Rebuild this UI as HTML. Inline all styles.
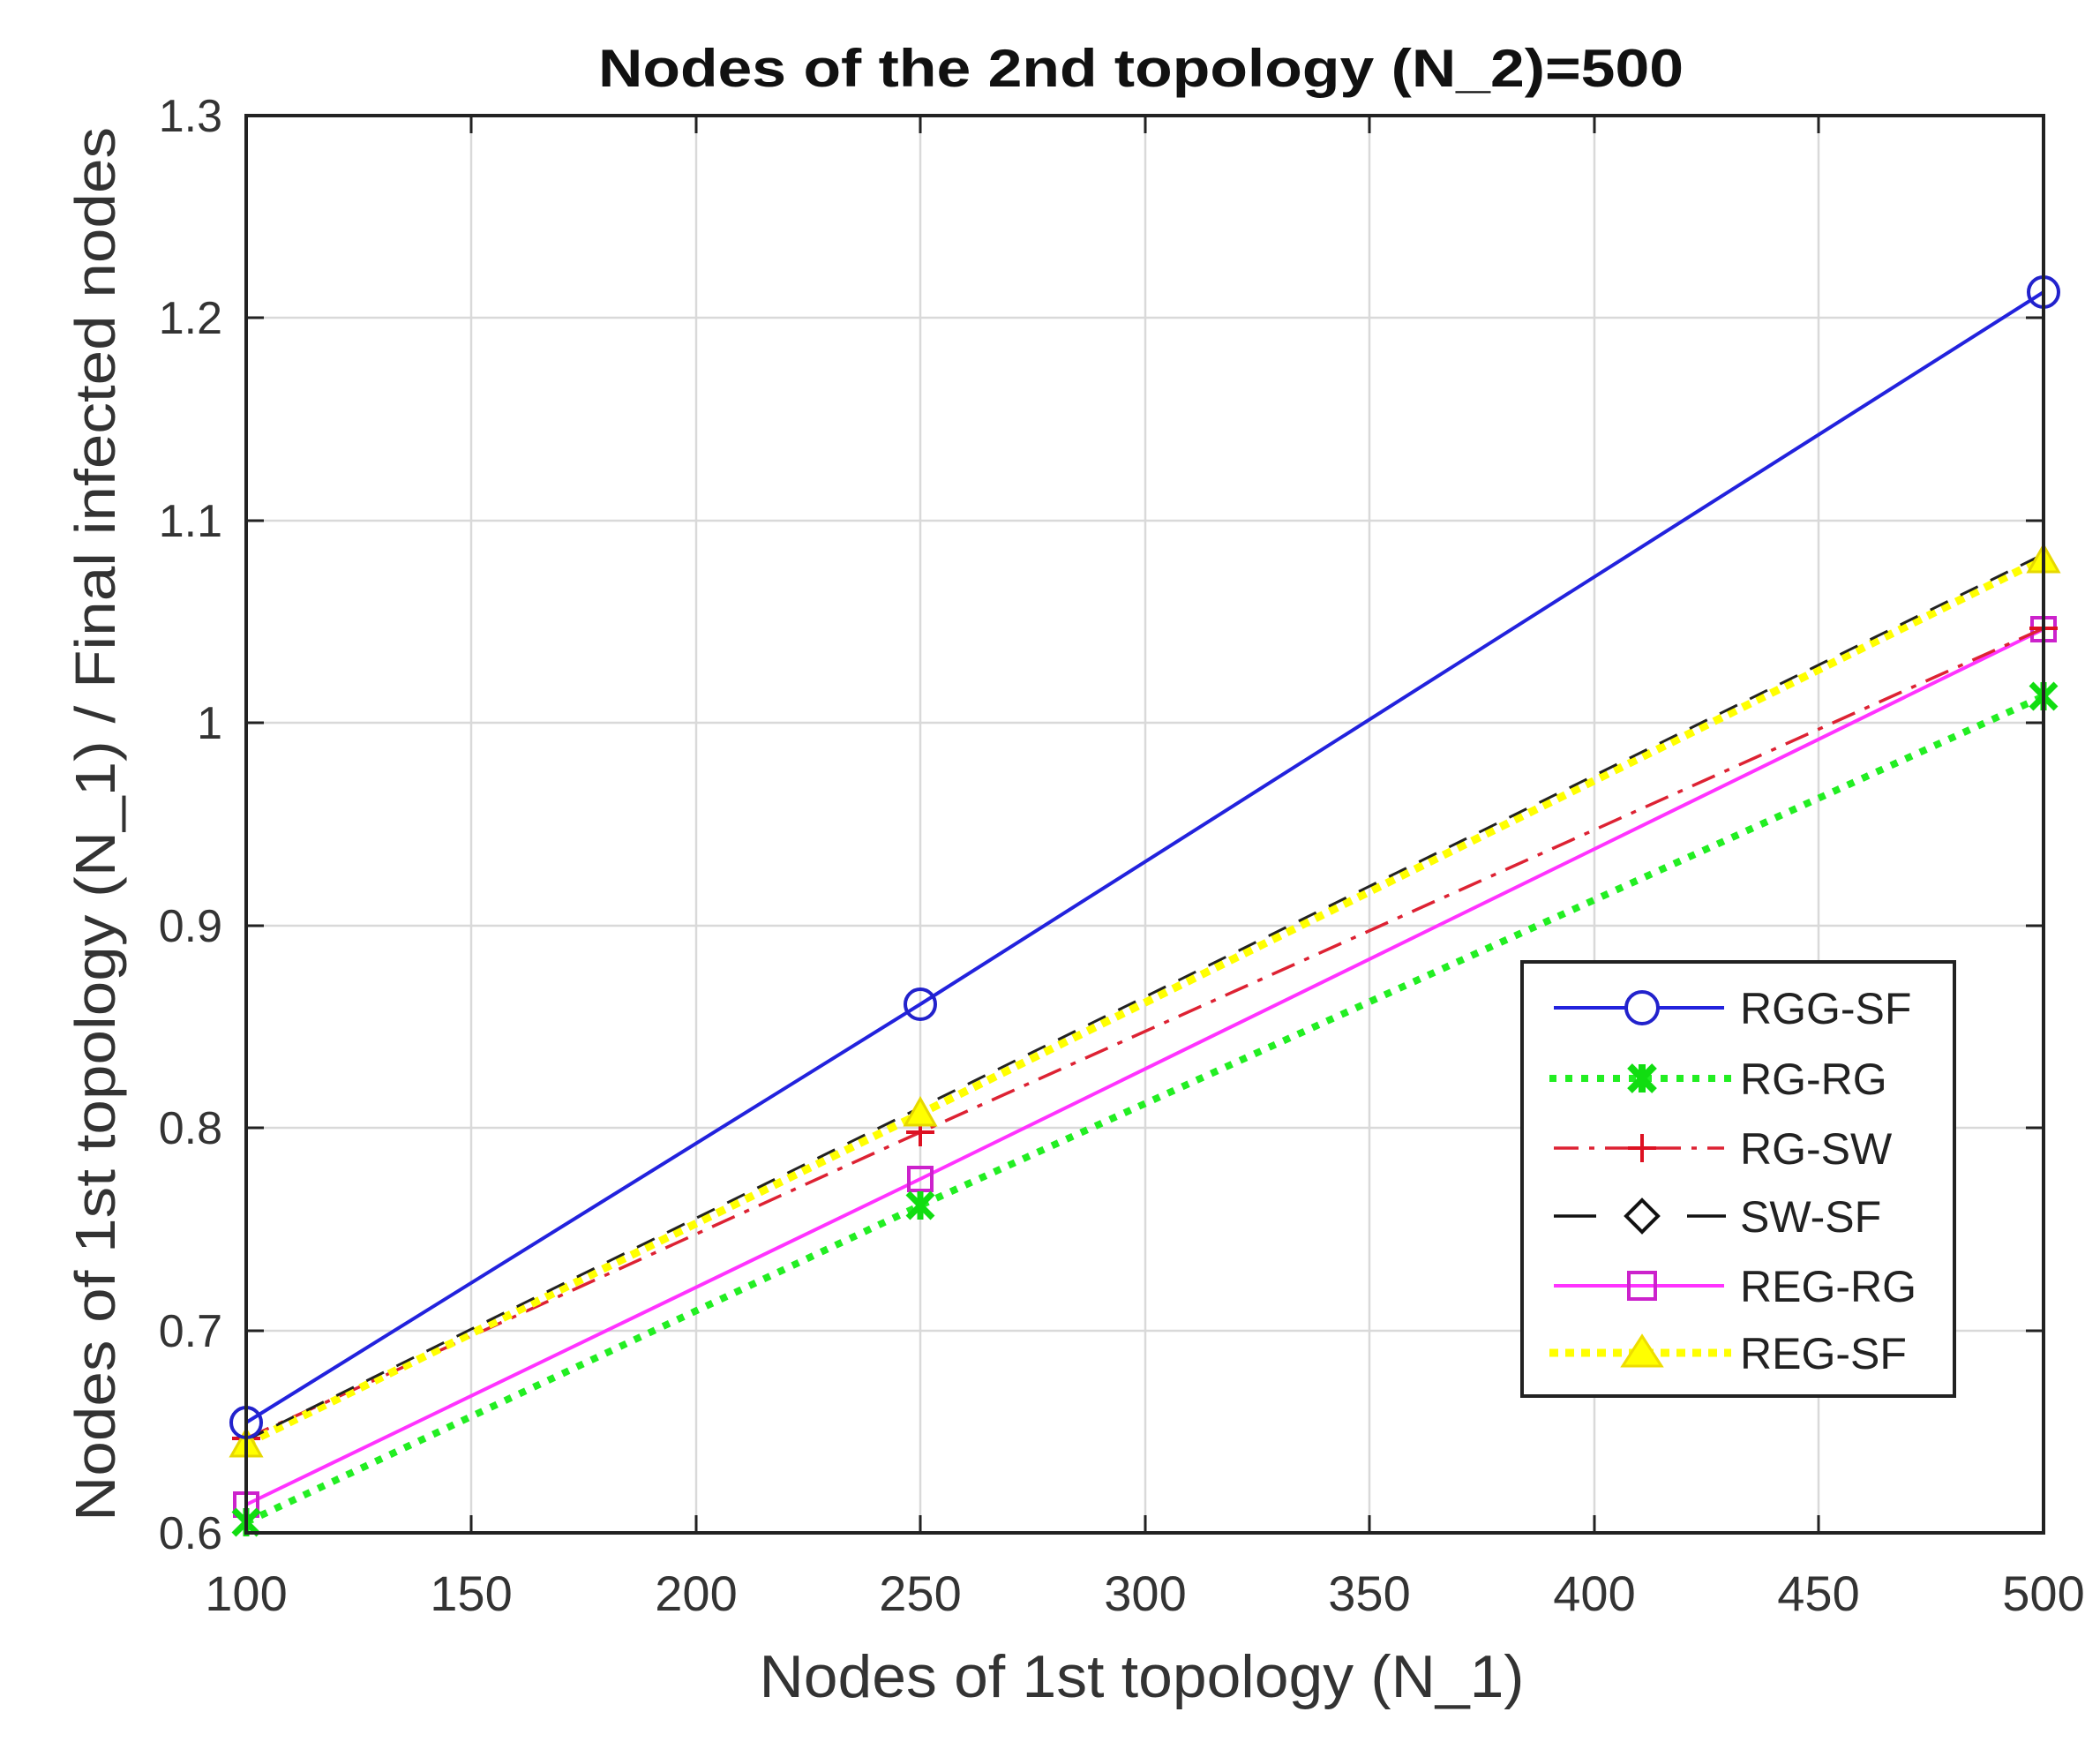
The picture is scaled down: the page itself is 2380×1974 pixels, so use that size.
<!DOCTYPE html>
<html><head><meta charset="utf-8"><style>html,body{margin:0;padding:0;background:#fff}svg{display:block}</style></head>
<body>
<svg width="2380" height="1974" viewBox="0 0 2380 1974" xmlns="http://www.w3.org/2000/svg" font-family="Liberation Sans, Arial, sans-serif">
<rect width="2380" height="1974" fill="#fff"/>
<g stroke="#d9d9d9" stroke-width="2.5">
<line x1="534" y1="131" x2="534" y2="1737"/><line x1="789" y1="131" x2="789" y2="1737"/>
<line x1="1043" y1="131" x2="1043" y2="1737"/><line x1="1298" y1="131" x2="1298" y2="1737"/>
<line x1="1552" y1="131" x2="1552" y2="1737"/><line x1="1807" y1="131" x2="1807" y2="1737"/>
<line x1="2061" y1="131" x2="2061" y2="1737"/>
<line x1="279" y1="360" x2="2316" y2="360"/><line x1="279" y1="590" x2="2316" y2="590"/>
<line x1="279" y1="819" x2="2316" y2="819"/><line x1="279" y1="1049" x2="2316" y2="1049"/>
<line x1="279" y1="1278" x2="2316" y2="1278"/><line x1="279" y1="1508" x2="2316" y2="1508"/>
</g>
<g stroke="#222" stroke-width="3">
<path d="M534 1737v-20M789 1737v-20M1043 1737v-20M1298 1737v-20M1552 1737v-20M1807 1737v-20M2061 1737v-20"/>
<path d="M534 131v20M789 131v20M1043 131v20M1298 131v20M1552 131v20M1807 131v20M2061 131v20"/>
<path d="M279 360h20M279 590h20M279 819h20M279 1049h20M279 1278h20M279 1508h20"/>
<path d="M2316 360h-20M2316 590h-20M2316 819h-20M2316 1049h-20M2316 1278h-20M2316 1508h-20"/>
</g>
<!-- REG-RG magenta -->
<polyline points="279,1705 1043,1336 2316,713" fill="none" stroke="#ff33ff" stroke-width="4"/>
<g fill="none" stroke="#cc22cc" stroke-width="4">
<rect x="266" y="1692" width="26" height="26"/><rect x="1030" y="1323" width="26" height="26"/><rect x="2303" y="700" width="26" height="26"/></g>
<!-- RG-RG green dotted -->
<polyline points="279,1725 1043,1366 2316,789" fill="none" stroke="#22ee22" stroke-width="8" stroke-dasharray="8,10"/>
<g stroke="#11dd11" stroke-width="7">
<path d="M265 1711l28 28M293 1711l-28 28M279 1709v32M1029 1352l28 28M1057 1352l-28 28M1043 1350v32M2302 775l28 28M2330 775l-28 28M2316 773v32"/></g>
<!-- RG-SW red dash-dot -->
<polyline points="279,1630 1043,1283 2316,712" fill="none" stroke="#dd2233" stroke-width="3.5" stroke-dasharray="28,12,6,12"/>
<g stroke="#dd1122" stroke-width="4"><path d="M263 1630h32M279 1614v32M1027 1283h32M1043 1267v32M2300 712h32M2316 696v32"/></g>
<!-- REG-SF yellow dotted -->
<polyline points="279,1636 1043,1262 2316,633" fill="none" stroke="#ffff00" stroke-width="9" stroke-dasharray="10,8"/>
<!-- SW-SF black dashed -->
<polyline points="279,1632 1043,1255 2316,628" fill="none" stroke="#222" stroke-width="3" stroke-dasharray="22,16"/>
<g fill="#ffff00" stroke="#e6d800" stroke-width="3">
<path d="M279 1620l17 30h-34z"/><path d="M1043 1245l17 30h-34z"/><path d="M2316 618l17 30h-34z"/></g>
<!-- RGG-SF blue -->
<polyline points="279,1612 1043,1138 2316,331" fill="none" stroke="#2222dd" stroke-width="4"/>
<g fill="none" stroke="#2222cc" stroke-width="4">
<circle cx="279" cy="1612" r="17"/><circle cx="1043" cy="1138" r="17"/><circle cx="2316" cy="331" r="17"/></g>
<rect x="279" y="131" width="2037" height="1606" fill="none" stroke="#222" stroke-width="4"/>
<g font-size="56" fill="#333" text-anchor="middle">
<text x="279" y="1825">100</text><text x="534" y="1825">150</text><text x="789" y="1825">200</text>
<text x="1043" y="1825">250</text><text x="1298" y="1825">300</text><text x="1552" y="1825">350</text>
<text x="1807" y="1825">400</text><text x="2061" y="1825">450</text><text x="2316" y="1825">500</text>
</g>
<g font-size="52" fill="#333" text-anchor="end">
<text x="252" y="149">1.3</text><text x="252" y="378">1.2</text><text x="252" y="608">1.1</text>
<text x="252" y="837">1</text><text x="252" y="1067">0.9</text><text x="252" y="1296">0.8</text>
<text x="252" y="1526">0.7</text><text x="252" y="1755">0.6</text>
</g>
<text x="1293" y="98" font-size="60" font-weight="bold" text-anchor="middle" fill="#111" textLength="1230" lengthAdjust="spacingAndGlyphs">Nodes of the 2nd topology (N_2)=500</text>
<text x="1294" y="1923" font-size="68" text-anchor="middle" fill="#333" textLength="867" lengthAdjust="spacingAndGlyphs">Nodes of 1st topology (N_1)</text>
<text transform="translate(130,934) rotate(-90)" font-size="64" text-anchor="middle" fill="#333" textLength="1580" lengthAdjust="spacingAndGlyphs">Nodes of 1st topology (N_1) / Final infected nodes</text>
<!-- legend -->
<rect x="1725" y="1090" width="490" height="492" fill="#fff" stroke="#222" stroke-width="4"/>
<g font-size="50" fill="#222">
<text x="1972" y="1160">RGG-SF</text><text x="1972" y="1240">RG-RG</text><text x="1972" y="1319">RG-SW</text>
<text x="1972" y="1396">SW-SF</text><text x="1972" y="1475">REG-RG</text><text x="1972" y="1551">REG-SF</text>
</g>
<line x1="1761" y1="1142" x2="1954" y2="1142" stroke="#2222dd" stroke-width="4"/>
<circle cx="1861" cy="1142" r="18" fill="#fff" stroke="#2222cc" stroke-width="4"/>
<line x1="1756" y1="1222" x2="1962" y2="1222" stroke="#22ee22" stroke-width="8" stroke-dasharray="8,10"/>
<path d="M1847 1208l28 28M1875 1208l-28 28M1861 1206v32" stroke="#11dd11" stroke-width="8"/>
<line x1="1761" y1="1301" x2="1954" y2="1301" stroke="#dd2233" stroke-width="3.5" stroke-dasharray="28,12,6,12"/>
<path d="M1845 1301h32M1861 1285v32" stroke="#dd1122" stroke-width="4"/>
<path d="M1761 1378h48M1912 1378h44" stroke="#111" stroke-width="3.5"/>
<path d="M1861 1360l18 18-18 18-18-18z" fill="#fff" stroke="#111" stroke-width="4"/>
<line x1="1761" y1="1457" x2="1954" y2="1457" stroke="#ff33ff" stroke-width="4"/>
<rect x="1846" y="1442" width="30" height="30" fill="none" stroke="#cc22cc" stroke-width="4"/>
<line x1="1756" y1="1533" x2="1962" y2="1533" stroke="#ffff00" stroke-width="9" stroke-dasharray="10,8"/>
<path d="M1861 1514l22 34h-44z" fill="#ffff00" stroke="#eedd00" stroke-width="3"/>
</svg>
</body></html>
